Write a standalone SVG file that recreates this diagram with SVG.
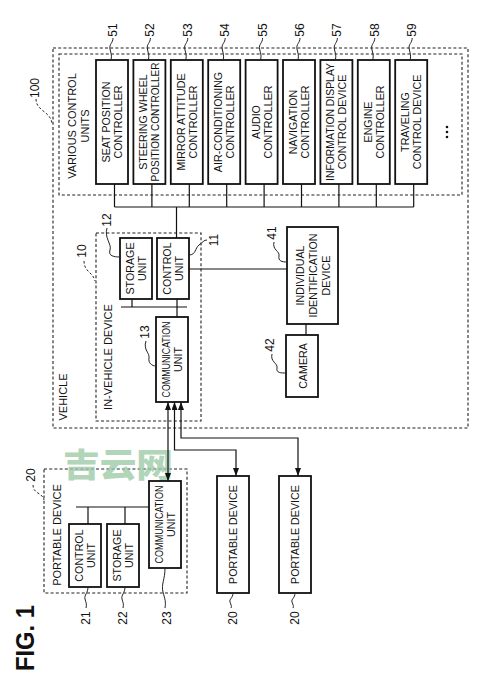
<svg xmlns="http://www.w3.org/2000/svg" width="500" height="693" viewBox="0 0 500 693">
<style>
.bg{fill:#fff}
.box{fill:#fff;stroke:#111;stroke-width:1.8}
.dash{fill:none;stroke:#222;stroke-width:1.1;stroke-dasharray:3,2.2}
.ln{fill:none;stroke:#111;stroke-width:1.2}
.ld{fill:none;stroke:#222;stroke-width:1}
.ldd{fill:none;stroke:#222;stroke-width:1;stroke-dasharray:2.5,2}
text{font-family:"Liberation Sans",Arial,sans-serif;fill:#111}
.t{font-size:10.7px;text-anchor:middle;dominant-baseline:central}
.f{font-size:11px;text-anchor:middle;dominant-baseline:central}
.n{font-size:12px;text-anchor:middle;dominant-baseline:central}
.wm{font-family:"Noto Sans CJK SC",sans-serif;font-size:33px;font-weight:900;fill:#9ccaa6;fill-opacity:0.8}
</style>
<defs>
<marker id="ah" viewBox="0 0 8 6" refX="8" refY="3" markerWidth="8" markerHeight="6" markerUnits="userSpaceOnUse" orient="auto-start-reverse">
<path d="M0,0 L8,3 L0,6 z" fill="#111"/>
</marker>
</defs>
<rect class="bg" x="0" y="0" width="500" height="693"/>

<g id="frames">
<rect id="vehicle" class="dash" x="53" y="48" width="415" height="380"/>
<rect id="various" class="dash" x="59" y="54" width="403" height="141"/>
<rect id="invehicle" class="dash" x="96" y="233" width="105" height="188"/>
<rect id="portable-frame" class="dash" x="44" y="469" width="143" height="124"/>
<text class="f" transform="translate(72,126) rotate(-90)">VARIOUS CONTROL</text>
<text class="f" transform="translate(85,126) rotate(-90)">UNITS</text>
<text class="f" transform="translate(63,397) rotate(-90)">VEHICLE</text>
<text class="f" transform="translate(108,357) rotate(-90)">IN-VEHICLE DEVICE</text>
<text class="f" transform="translate(57,535) rotate(-90)">PORTABLE DEVICE</text>
</g>

<text class="wm" x="63" y="477" textLength="110" lengthAdjust="spacingAndGlyphs">吉云网</text>

<g id="connectors">
<path class="ln" d="M114.5,184V207M151.9,184V207M189.3,184V207M226.7,184V207M264.1,184V207M301.5,184V207M338.9,184V207M376.3,184V207M413.7,184V207M114.5,207H413.7"/>
<path class="ln" d="M176.5,207V238"/>
<path class="ln" d="M132,299V307M121,307H187M177,299V317"/>
<path class="ln" d="M189,269H287"/>
<path class="ln" d="M306,324V335"/>
<path class="ln" d="M76,507H149M88,507V524M125,507V524"/>
<path class="ln" d="M168,402V481" marker-start="url(#ah)" marker-end="url(#ah)"/>
<path class="ln" d="M174.5,402V450H236V476" marker-start="url(#ah)" marker-end="url(#ah)"/>
<path class="ln" d="M181,402V438H298V476" marker-start="url(#ah)" marker-end="url(#ah)"/>
</g>

<g id="n51"><rect class="box" x="96" y="60" width="32" height="124"/>
<text class="t" transform="translate(112,122) rotate(-90)"><tspan x="0" y="-6">SEAT POSITION</tspan><tspan x="0" y="6">CONTROLLER</tspan></text></g>
<g id="n52"><rect class="box" x="133.4" y="60" width="32" height="124"/>
<text class="t" transform="translate(149.4,122) rotate(-90)"><tspan x="0" y="-6">STEERING WHEEL</tspan><tspan x="0" y="6" textLength="119" lengthAdjust="spacingAndGlyphs">POSITION CONTROLLER</tspan></text></g>
<g id="n53"><rect class="box" x="170.8" y="60" width="32" height="124"/>
<text class="t" transform="translate(186.8,122) rotate(-90)"><tspan x="0" y="-6">MIRROR ATTITUDE</tspan><tspan x="0" y="6">CONTROLLER</tspan></text></g>
<g id="n54"><rect class="box" x="208.2" y="60" width="32" height="124"/>
<text class="t" transform="translate(224.2,122) rotate(-90)"><tspan x="0" y="-6">AIR-CONDITIONING</tspan><tspan x="0" y="6">CONTROLLER</tspan></text></g>
<g id="n55"><rect class="box" x="245.6" y="60" width="32" height="124"/>
<text class="t" transform="translate(261.6,122) rotate(-90)"><tspan x="0" y="-6">AUDIO</tspan><tspan x="0" y="6">CONTROLLER</tspan></text></g>
<g id="n56"><rect class="box" x="283" y="60" width="32" height="124"/>
<text class="t" transform="translate(299,122) rotate(-90)"><tspan x="0" y="-6">NAVIGATION</tspan><tspan x="0" y="6">CONTROLLER</tspan></text></g>
<g id="n57"><rect class="box" x="320.4" y="60" width="32" height="124"/>
<text class="t" transform="translate(336.4,122) rotate(-90)"><tspan x="0" y="-6" textLength="118" lengthAdjust="spacingAndGlyphs">INFORMATION DISPLAY</tspan><tspan x="0" y="6">CONTROL DEVICE</tspan></text></g>
<g id="n58"><rect class="box" x="357.8" y="60" width="32" height="124"/>
<text class="t" transform="translate(373.8,122) rotate(-90)"><tspan x="0" y="-6">ENGINE</tspan><tspan x="0" y="6">CONTROLLER</tspan></text></g>
<g id="n59"><rect class="box" x="395.2" y="60" width="32" height="124"/>
<text class="t" transform="translate(411.2,122) rotate(-90)"><tspan x="0" y="-6">TRAVELING</tspan><tspan x="0" y="6">CONTROL DEVICE</tspan></text></g>
<g id="more"><circle cx="447" cy="127" r="1.3" fill="#111"/><circle cx="447" cy="132" r="1.3" fill="#111"/><circle cx="447" cy="137" r="1.3" fill="#111"/></g>

<g id="n12"><rect class="box" x="120" y="238" width="32" height="61"/>
<text class="t" transform="translate(136,268.5) rotate(-90)"><tspan x="0" y="-6">STORAGE</tspan><tspan x="0" y="6">UNIT</tspan></text></g>
<g id="n11"><rect class="box" x="157" y="238" width="32" height="61"/>
<text class="t" transform="translate(173,268.5) rotate(-90)"><tspan x="0" y="-6">CONTROL</tspan><tspan x="0" y="6">UNIT</tspan></text></g>
<g id="n13"><rect class="box" x="156" y="317" width="32" height="85"/>
<text class="t" transform="translate(172,359.5) rotate(-90)"><tspan x="0" y="-6" textLength="76" lengthAdjust="spacingAndGlyphs">COMMUNICATION</tspan><tspan x="0" y="6">UNIT</tspan></text></g>
<g id="n41"><rect class="box" x="287" y="227" width="51" height="97"/>
<text class="t" transform="translate(313,275.5) rotate(-90)"><tspan x="0" y="-13">INDIVIDUAL</tspan><tspan x="0" y="0">IDENTIFICATION</tspan><tspan x="0" y="13">DEVICE</tspan></text></g>
<g id="n42"><rect class="box" x="286" y="335" width="32" height="62"/>
<text class="t" transform="translate(302.5,366) rotate(-90)">CAMERA</text></g>

<g id="n21"><rect class="box" x="69" y="524" width="32" height="63"/>
<text class="t" transform="translate(85,555.5) rotate(-90)"><tspan x="0" y="-6">CONTROL</tspan><tspan x="0" y="6">UNIT</tspan></text></g>
<g id="n22"><rect class="box" x="107" y="524" width="32" height="63"/>
<text class="t" transform="translate(123,555.5) rotate(-90)"><tspan x="0" y="-6">STORAGE</tspan><tspan x="0" y="6">UNIT</tspan></text></g>
<g id="n23"><rect class="box" x="149" y="481" width="32" height="87"/>
<text class="t" transform="translate(165,524.5) rotate(-90)"><tspan x="0" y="-6" textLength="78" lengthAdjust="spacingAndGlyphs">COMMUNICATION</tspan><tspan x="0" y="6">UNIT</tspan></text></g>
<g id="p1"><rect class="box" x="217" y="476" width="32" height="117"/>
<text class="t" transform="translate(233,534.5) rotate(-90)">PORTABLE DEVICE</text></g>
<g id="p2"><rect class="box" x="279" y="476" width="32" height="117"/>
<text class="t" transform="translate(295,534.5) rotate(-90)">PORTABLE DEVICE</text></g>

<g id="refs">
<text class="n" transform="translate(113,30) rotate(-90)">51</text>
<text class="n" transform="translate(150.4,30) rotate(-90)">52</text>
<text class="n" transform="translate(187.8,30) rotate(-90)">53</text>
<text class="n" transform="translate(225.2,30) rotate(-90)">54</text>
<text class="n" transform="translate(262.6,30) rotate(-90)">55</text>
<text class="n" transform="translate(300,30) rotate(-90)">56</text>
<text class="n" transform="translate(337.4,30) rotate(-90)">57</text>
<text class="n" transform="translate(374.8,30) rotate(-90)">58</text>
<text class="n" transform="translate(412.2,30) rotate(-90)">59</text>
<path class="ld" d="M113,38c0,5 -4,6 -3,11s2,6 1,11"/>
<path class="ld" d="M150.4,38c0,5 -4,6 -3,11s2,6 1,11"/>
<path class="ld" d="M187.8,38c0,5 -4,6 -3,11s2,6 1,11"/>
<path class="ld" d="M225.2,38c0,5 -4,6 -3,11s2,6 1,11"/>
<path class="ld" d="M262.6,38c0,5 -4,6 -3,11s2,6 1,11"/>
<path class="ld" d="M300,38c0,5 -4,6 -3,11s2,6 1,11"/>
<path class="ld" d="M337.4,38c0,5 -4,6 -3,11s2,6 1,11"/>
<path class="ld" d="M374.8,38c0,5 -4,6 -3,11s2,6 1,11"/>
<path class="ld" d="M412.2,38c0,5 -4,6 -3,11s2,6 1,11"/>
<text class="n" transform="translate(35,88) rotate(-90)">100</text>
<path class="ldd" d="M36,99C36,111 50,111 52,123"/>
<text class="n" transform="translate(82,251) rotate(-90)">10</text>
<path class="ldd" d="M84,261C84,272 93,272 95,281"/>
<text class="n" transform="translate(107,220) rotate(-90)">12</text>
<path class="ld" d="M107,228C104,238 112,244 110,250S114,257 120,257"/>
<text class="n" transform="translate(214,240) rotate(-90)">11</text>
<path class="ld" d="M189,255C196,255 195,248 199,245S204,240 207,240"/>
<text class="n" transform="translate(145,332) rotate(-90)">13</text>
<path class="ld" d="M146,341C143,350 150,353 149,358S152,366 156,366"/>
<text class="n" transform="translate(272,233) rotate(-90)">41</text>
<path class="ld" d="M274,242C272,250 280,251 279,256S282,262 287,262"/>
<text class="n" transform="translate(270,345) rotate(-90)">42</text>
<path class="ld" d="M272,354C270,362 278,363 277,368S281,373 286,373"/>
<text class="n" transform="translate(31,475) rotate(-90)">20</text>
<path class="ldd" d="M33,485C33,494 42,492 44,500"/>
<path class="ld" d="M88,587c0,6 -4,8 -3,12s2,5 1,9"/>
<text class="n" transform="translate(86,618) rotate(-90)">21</text>
<path class="ld" d="M125,587c0,6 -4,8 -3,12s2,5 1,9"/>
<text class="n" transform="translate(123,618) rotate(-90)">22</text>
<path class="ld" d="M165,568c0,12 -4,16 -2,24s3,9 2,16"/>
<text class="n" transform="translate(167,618) rotate(-90)">23</text>
<path class="ld" d="M233,593c0,5 -4,6 -3,9s2,4 1,6"/>
<text class="n" transform="translate(233,618) rotate(-90)">20</text>
<path class="ld" d="M295,593c0,5 -4,6 -3,9s2,4 1,6"/>
<text class="n" transform="translate(295,618) rotate(-90)">20</text>
</g>

<text transform="translate(25,638) rotate(-90)" font-size="26" font-weight="bold" text-anchor="middle" dominant-baseline="central" textLength="66" lengthAdjust="spacingAndGlyphs">FIG. 1</text>
</svg>
